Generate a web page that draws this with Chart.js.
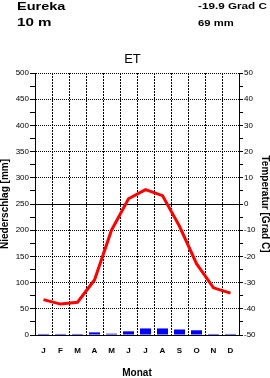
<!DOCTYPE html>
<html>
<head>
<meta charset="utf-8">
<script src="https://cdn.jsdelivr.net/npm/chart.js@4"></script>
<style>
  html, body { margin: 0; padding: 0; background: #fff; }
  #wrap { position: relative; width: 270px; height: 378px; overflow: hidden; }
  canvas { position: absolute; left: 0; top: 0; }
  .t { position: absolute; font-family: "Liberation Sans", Arial, sans-serif; color: #000; white-space: nowrap; transform-origin: left top; }
</style>
</head>
<body>
<div id="wrap">
  <canvas id="c" width="270" height="378"></canvas>
  <div class="t" style="left:16.5px; top:1.3px; font-size:11px; line-height:11px; font-weight:bold; transform:scaleX(1.32);">Eureka</div>
  <div class="t" style="left:16.5px; top:17px; font-size:11px; line-height:11px; font-weight:bold; transform:scaleX(1.38);">10 m</div>
  <div class="t" style="left:197.5px; top:1.5px; font-size:9px; line-height:9px; font-weight:bold; transform:scaleX(1.3);">-19.9 Grad C</div>
  <div class="t" style="left:197.5px; top:18.8px; font-size:9px; line-height:9px; font-weight:bold; transform:scaleX(1.25);">69 mm</div>
  <div class="t" style="left:0px; width:265px; text-align:center; top:51.6px; font-size:13px; line-height:13px;">ET</div>
</div>
<script>
const months = ['J','F','M','A','M','J','J','A','S','O','N','D'];
const precipitation = [2, 2, 2, 5, 2.5, 7, 12.5, 12.5, 10.5, 9, 2, 2];
const temperature = [-36.5, -38.2, -37.5, -29, -10, 2, 5.5, 3.2, -8.5, -22.8, -32, -34];
const precipRange = [0, 500];
const tempRange = [-50, 50];

const FONT = '"Liberation Sans", Arial, sans-serif';

new Chart(document.getElementById('c'), {
  data: {
    labels: months,
    datasets: [
      {
        type: 'line',
        data: temperature,
        yAxisID: 'y2',
        borderColor: '#ff0000',
        borderWidth: 3,
        pointRadius: 0,
        tension: 0,
        fill: false,
        order: 0
      },
      {
        type: 'bar',
        data: precipitation,
        yAxisID: 'y',
        backgroundColor: '#0000ff',
        borderWidth: 0,
        categoryPercentage: 1,
        barPercentage: 0.65,
        order: 1
      }
    ]
  },
  options: {
    responsive: false,
    animation: false,
    devicePixelRatio: 1,
    layout: { padding: { top: 73, left: 0, right: 0, bottom: 0 } },
    plugins: { legend: { display: false }, tooltip: { enabled: false } },
    scales: {
      x: {
        type: 'category',
        offset: true,
        grid: {
          offset: true,
          color: '#000',
          lineWidth: 1,
          drawTicks: false
        },
        border: { display: true, color: '#000', width: 1, dash: [2, 1] },
        ticks: {
          color: '#000',
          font: { family: FONT, size: 8, weight: 'bold' },
          padding: 11,
          maxRotation: 0,
          autoSkip: false
        },
        title: {
          display: true,
          text: 'Monat',
          color: '#000',
          font: { family: FONT, size: 10, weight: 'bold', lineHeight: 1 },
          padding: 0
        },
        afterFit(s) { s.height = 43; }
      },
      y: {
        position: 'left',
        min: precipRange[0],
        max: precipRange[1],
        ticks: {
          stepSize: 25,
          autoSkip: false,
          color: '#000',
          padding: 1,
          font: { family: FONT, size: 8 },
          callback: v => (v % 50 === 0 ? String(v) : '')
        },
        grid: {
          color: ctx => {
            const v = ctx.tick ? ctx.tick.value : 0;
            if (v % 50 !== 0) return 'rgba(0,0,0,0)';
            return '#000';
          },
          lineWidth: 1,
          tickColor: '#000',
          tickLength: 5,
          drawTicks: true
        },
        border: {
          display: true, color: '#000', width: 1,
          dash: ctx => {
            const v = ctx.tick ? ctx.tick.value : 0;
            return (v === 250 || v === 0) ? [] : [1, 1];
          }
        },
        title: {
          display: true,
          text: 'Niederschlag [mm]',
          color: '#000',
          font: { family: FONT, size: 10, weight: 'bold', lineHeight: 1 },
          padding: 0
        },
        afterFit(s) { s.width = 35; }
      },
      y2: {
        position: 'right',
        min: tempRange[0],
        max: tempRange[1],
        ticks: {
          stepSize: 5,
          autoSkip: false,
          color: '#000',
          padding: 1,
          font: { family: FONT, size: 8 },
          callback: v => (v % 10 === 0 ? String(v) : '')
        },
        grid: {
          drawOnChartArea: false,
          tickColor: '#000',
          tickLength: 4,
          drawTicks: true
        },
        border: { display: true, color: '#000', width: 1 },
        title: {
          display: true,
          text: 'Temperatur [Grad C]',
          color: '#000',
          font: { family: FONT, size: 10, weight: 'bold', lineHeight: 1 },
          padding: 0
        },
        afterFit(s) { s.width = 31; }
      }
    }
  }
});
</script>
</body>
</html>
